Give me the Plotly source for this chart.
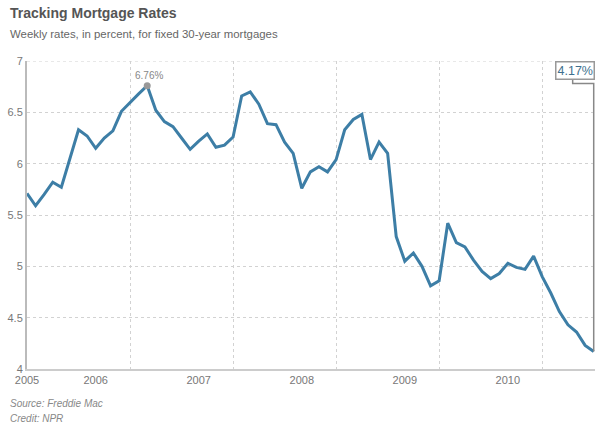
import plotly.graph_objects as go

# ---- data ----
rates = [5.71, 5.59, 5.70, 5.82, 5.77, 6.05, 6.33, 6.27, 6.15, 6.25, 6.32, 6.51,
         6.60, 6.68, 6.76, 6.52, 6.41, 6.36, 6.25, 6.14, 6.22, 6.29, 6.16, 6.18,
         6.26, 6.66, 6.70, 6.58, 6.39, 6.38, 6.21, 6.10, 5.76, 5.92, 5.97, 5.92,
         6.04, 6.33, 6.43, 6.48, 6.04, 6.21, 6.10, 5.29, 5.05, 5.13, 5.00, 4.81,
         4.86, 5.42, 5.23, 5.19, 5.06, 4.95, 4.88, 4.93, 5.03, 4.99, 4.97, 5.10,
         4.90, 4.74, 4.56, 4.43, 4.36, 4.23, 4.17]
x_index = list(range(len(rates)))
year_labels = ["2005", "2006", "2007", "2008", "2009", "2010"]
year_label_pos = [0, 8, 20, 32, 44, 56]
year_grid_pos = [12, 24, 36, 48, 60]
y_ticks = [4, 4.5, 5, 5.5, 6, 6.5, 7]
y_ticktext = ["4", "4.5", "5", "5.5", "6", "6.5", "7"]

LINE = "#3d7ea6"
FONT = "Liberation Sans, Arial, sans-serif"
GRID = "#d2d2d2"

peak_i = max(range(len(rates)), key=lambda i: rates[i])
last_i = len(rates) - 1
ymin, ymax = 4, 7

fig = go.Figure()
fig.add_trace(go.Scatter(x=x_index, y=rates, mode="lines",
                         line=dict(color=LINE, width=3), hoverinfo="skip"))
fig.add_trace(go.Scatter(x=[peak_i], y=[rates[peak_i]], mode="markers",
                         marker=dict(color="#999999", size=7), hoverinfo="skip"))

# plot-area geometry helpers (pixels)
W, H = 600, 424
L, R, T, B = 27, 5, 61, 55
pw, ph = W - L - R, H - T - B
def px_x(p):
    return (p - L) / pw
def px_y(p):
    return (H - B - p) / ph

annotations = [
    dict(text="<b>Tracking Mortgage Rates</b>", x=px_x(8), y=px_y(13), xref="paper", yref="paper",
         xanchor="left", yanchor="middle", showarrow=False, font=dict(size=14, color="#555555", family=FONT)),
    dict(text="Weekly rates, in percent, for fixed 30-year mortgages", x=px_x(8), y=px_y(34),
         xref="paper", yref="paper", xanchor="left", yanchor="middle", showarrow=False,
         font=dict(size=11.4, color="#666666", family=FONT)),
    dict(text="<i>Source: Freddie Mac</i>", x=px_x(8), y=px_y(403), xref="paper", yref="paper",
         xanchor="left", yanchor="middle", showarrow=False, font=dict(size=10, color="#888888", family=FONT)),
    dict(text="<i>Credit: NPR</i>", x=px_x(8), y=px_y(418), xref="paper", yref="paper",
         xanchor="left", yanchor="middle", showarrow=False, font=dict(size=10, color="#888888", family=FONT)),
    dict(text=f"{rates[peak_i]:.2f}%", x=peak_i, y=rates[peak_i], xref="x", yref="y",
         xanchor="center", yanchor="bottom", yshift=3, xshift=2, showarrow=False,
         font=dict(size=10, color="#888888", family=FONT)),
    dict(text=f"{rates[last_i]:.2f}%", x=last_i, y=ymax, xref="x", yref="y",
         xanchor="right", yanchor="top", showarrow=False, bgcolor="white",
         bordercolor="#999999", borderwidth=1.5, borderpad=1, xshift=1,
         font=dict(size=12.5, color="#3e6f8e", family=FONT)),
]

box_bottom = ymax - 0.14
elbow_y = ymax - 0.22
elbow_x = last_i - 2.45
shapes = [
    dict(type="path", xref="x", yref="y",
         path=f"M {elbow_x},{box_bottom} L {elbow_x},{elbow_y} L {last_i},{elbow_y} L {last_i},{rates[last_i]}",
         line=dict(color="#888888", width=1.5)),
    dict(type="line", xref="paper", yref="y", x0=0, x1=1, y0=ymax, y1=ymax,
         line=dict(color=GRID, width=1, dash="dot"), layer="below"),
]

fig.update_layout(
    width=W, height=H,
    margin=dict(l=L, r=R, t=T, b=B),
    paper_bgcolor="white", plot_bgcolor="white",
    showlegend=False,
    font=dict(family=FONT, size=11, color="#777777"),
    annotations=annotations,
    shapes=shapes,
    xaxis=dict(range=[0, last_i + 0.15], tickmode="array", tickvals=year_label_pos, ticktext=year_labels,
               showgrid=False, zeroline=False, showline=True, linecolor="#cccccc", linewidth=1.5,
               ticks="", tickfont=dict(size=11, color="#777777"), automargin=False,
               minor=dict(tickmode="array", tickvals=year_grid_pos, showgrid=True,
                          gridcolor=GRID, gridwidth=1, griddash="dot", ticks="")),
    yaxis=dict(range=[ymin, ymax], tickmode="array", tickvals=y_ticks, ticktext=y_ticktext,
               showgrid=True, gridcolor=GRID, gridwidth=1, griddash="dot",
               zeroline=False, showline=True, linecolor="#bbbbbb", linewidth=2,
               ticks="", tickfont=dict(size=11, color="#777777"), automargin=False),
)

fig.write_html("out.html", config={"displayModeBar": False},
               post_script="document.body.style.margin='0';document.body.style.padding='0';")
